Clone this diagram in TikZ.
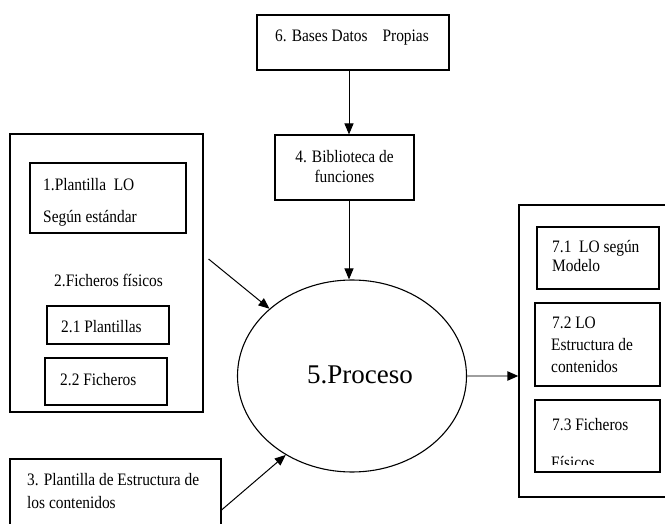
\documentclass[tikz,border=0pt]{standalone}
\usepackage{fontspec}
\setmainfont{Liberation Serif}
\newfontfamily\condserif{Liberation Serif}[FakeStretch=0.88]
\usetikzlibrary{arrows.meta,shapes.geometric}
\begin{document}
\begin{tikzpicture}[x=1pt,y=-1pt,
  box/.style={draw,line width=1.1pt,inner sep=0pt},
  txt/.style={anchor=base west,inner sep=0pt,font=\condserif\fontsize{17.5}{20}\selectfont},
  ctxt/.style={anchor=base,inner sep=0pt,font=\condserif\fontsize{17.5}{20}\selectfont},
  arr/.style={line width=1pt,-{Triangle[length=11pt,width=9pt]}},
  garr/.style={line width=2pt,draw=black!38,-{Triangle[length=11pt,width=9pt,color=black]}},
]
\useasboundingbox (0,0) rectangle (665,524);
\clip (0,0) rectangle (665,524);

% top boxes
\node[box,minimum width=192pt,minimum height=55pt] (b6) at (353,42.5) {};
\node[txt] (t6) at (275,42) {6. Bases Datos\hspace{15pt}Propias};
\node[box,minimum width=139pt,minimum height=65pt] (b4) at (344.5,167.5) {};
\node[ctxt] (t4a) at (344.5,163) {4. Biblioteca de};
\node[ctxt] (t4b) at (344.5,183) {funciones};

% left group
\node[box,minimum width=193pt,minimum height=278pt] (lft) at (106.5,273) {};
\node[box,minimum width=156pt,minimum height=70pt] (b1) at (108,198) {};
\node[txt] (t1a) at (43,191) {1.Plantilla\ \ LO};
\node[txt] (t1b) at (43,223) {Según estándar};
\node[txt] (t2) at (54,287) {2.Ficheros físicos};
\node[box,minimum width=122pt,minimum height=38pt] (b21) at (108,325) {};
\node[txt] (t21) at (61,333) {2.1 Plantillas};
\node[box,minimum width=122pt,minimum height=47pt] (b22) at (106,381.5) {};
\node[txt] (t22) at (60,385) {2.2 Ficheros};

% bottom-left box
\node[box,minimum width=211pt,minimum height=86pt] (b3) at (115.5,502) {};
\node[txt] (t3a) at (27,485) {3. Plantilla de Estructura de};
\node[txt] (t3b) at (27,508) {los contenidos};

% process
\node[draw,ellipse,line width=1.1pt,minimum width=229pt,minimum height=192pt,inner sep=0pt] (proc) at (352,376) {};
\node[anchor=base west,inner sep=0pt,font=\fontsize{27}{30}\selectfont] (tproc) at (307,383) {5.Proceso};

% right group
\node[box,minimum width=161pt,minimum height=292pt] (rgt) at (599.5,351) {};
\node[box,minimum width=122pt,minimum height=62pt] (b71) at (598,258) {};
\node[txt] (t71a) at (552,253) {7.1\ \ LO según};
\node[txt] (t71b) at (552,272) {Modelo};
\node[box,minimum width=125pt,minimum height=83pt] (b72) at (597.5,344.5) {};
\node[txt] (t72a) at (552,328) {7.2 LO};
\node[txt] (t72b) at (551,350) {Estructura de};
\node[txt] (t72c) at (551,372) {contenidos};
\node[box,minimum width=125pt,minimum height=72pt] (b73) at (597.5,436) {};
\node[txt] (t73a) at (552,430) {7.3 Ficheros};
\begin{scope}
  \clip (535,440) rectangle (660,464);
  \node[txt] (t73b) at (551,468) {Físicos};
\end{scope}

% connectors
\coordinate (vx) at (349,0);
\draw[arr] (b6.south -| vx) -- (b4.north -| vx);
\draw[arr] (b4.south -| vx) -- (proc.north -| vx);
\draw[arr] ([xshift=5pt,yshift=14pt]lft.east) -- (proc);
\draw[arr] ([yshift=-8pt]b3.east) -- (proc.230);
\draw[garr] (proc.east) -- (proc.east -| rgt.west);
\end{tikzpicture}
\end{document}
